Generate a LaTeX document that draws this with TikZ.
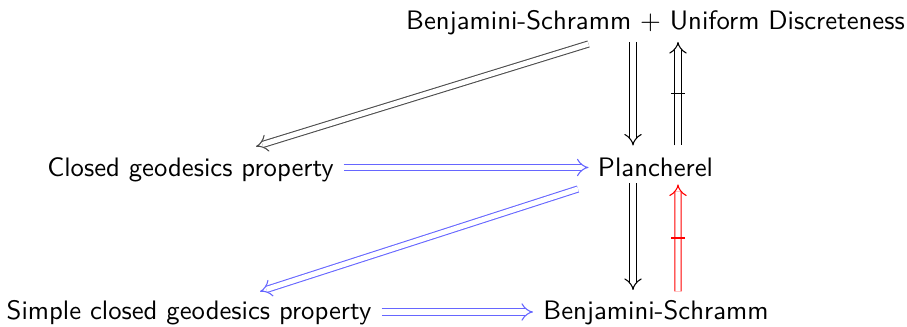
\documentclass[tikz,border=0pt]{standalone}
\usetikzlibrary{arrows.meta,calc}
\begin{document}
\begin{tikzpicture}[x=0.3744pt,y=-0.3744pt,
  lbl/.style={font=\sffamily, anchor=base, inner sep=0.3333em},
  imp/.style={double, double distance=1.9pt, line width=0.4pt, -{Implies}},
  barmid/.style={font=\sffamily, midway, sloped, inner sep=0pt}]
\useasboundingbox (0,0) rectangle (907,327);
\node[lbl] (top) at (655.5,30) {Benjamini-Schramm + Uniform Discreteness};
\node[lbl] (closed) at (190.5,176.5) {Closed geodesics property};
\node[lbl] (planch) at (655.5,176.5) {Plancherel};
\node[lbl] (simple) at (189,320) {Simple closed geodesics property};
\node[lbl] (bs) at (656,320) {Benjamini-Schramm};
% top row arrows
\draw[imp, black!70] ($(top.base)+(-67,14)$) -- ($(closed.base)+(65.5,-30)$);
\draw[imp, black] ($(top.base)+(-22.5,12)$) -- ($(planch.base)+(-22.5,-31)$);
\draw[imp, black] ($(planch.base)+(22.5,-31)$) -- ($(top.base)+(22.5,12)$)
  node[barmid] {\rule[-2.6pt]{0.4pt}{5.2pt}};
% middle
\draw[imp, blue!60] ($(closed.base)+(153,-9)$) -- ($(planch.base)+(-67,-9)$);
\draw[imp, blue!60] ($(planch.base)+(-77.5,12.5)$) -- ($(simple.base)+(71,-28.5)$);
\draw[imp, black] ($(planch.base)+(-22.5,7)$) -- ($(bs.base)+(-23,-30)$);
\draw[imp, red] ($(bs.base)+(22,-28.5)$) -- ($(planch.base)+(22.5,8)$)
  node[barmid] {\rule[-2.6pt]{0.4pt}{5.2pt}};
% bottom
\draw[imp, blue!60] ($(simple.base)+(192.5,-8)$) -- ($(bs.base)+(-123,-8)$);
\end{tikzpicture}
\end{document}
